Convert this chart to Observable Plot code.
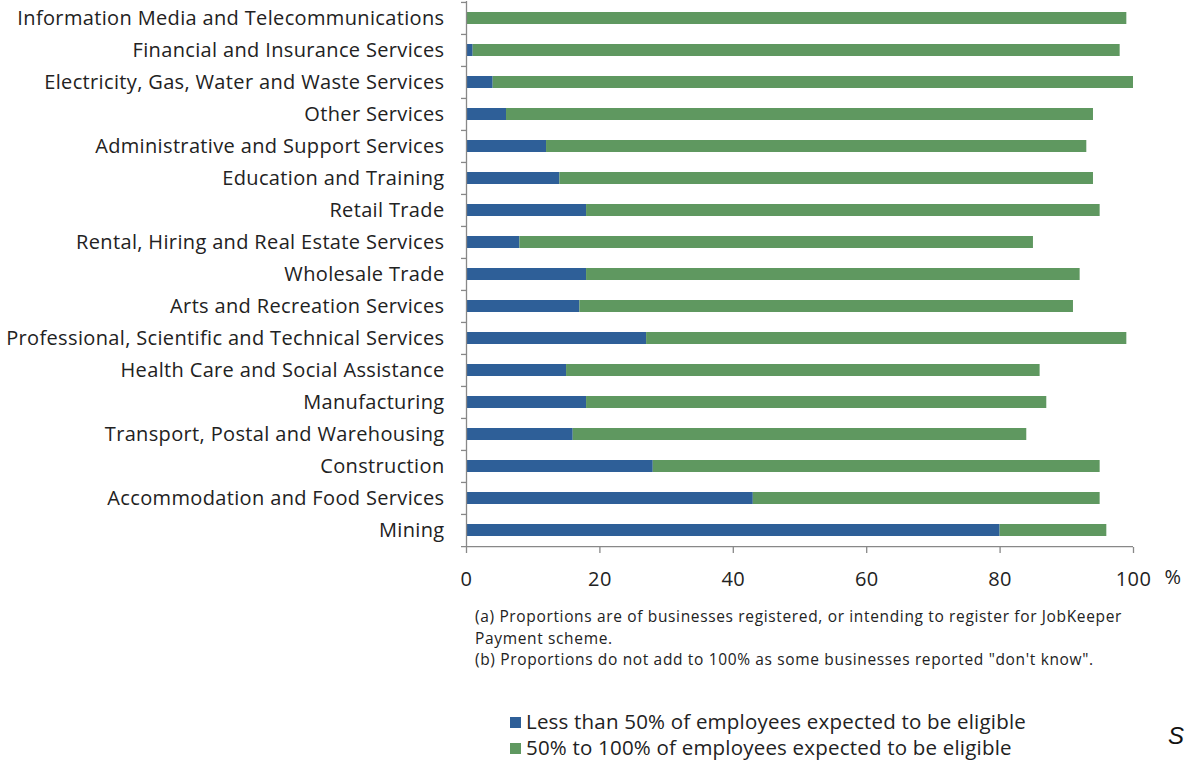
<!DOCTYPE html>
<html>
<head>
<meta charset="utf-8">
<script src="https://cdn.jsdelivr.net/npm/d3@7"></script>
<script src="https://cdn.jsdelivr.net/npm/@observablehq/plot@0.6"></script>
<style>
  html, body { margin: 0; padding: 0; background: #fff; }
  #wrap { position: relative; width: 1188px; height: 761px; overflow: hidden; font-family: "Open Sans", "Liberation Sans", sans-serif; color: #222; }
  #chart { position: absolute; left: 0; top: 0; }
  .note { position: absolute; left: 475px; font-size: 15.5px; letter-spacing: 0.65px; line-height: 21.5px; color: #222; white-space: nowrap; }
  .legend { position: absolute; left: 510px; font-size: 20.5px; letter-spacing: 0.2px; color: #222; white-space: nowrap; }
  .legend .sw { display: inline-block; width: 11px; height: 11px; margin-right: 5px; vertical-align: 1px; }
  .s { position: absolute; left: 1168px; top: 722px; font-family: "Liberation Sans", sans-serif; font-style: italic; font-size: 24px; color: #111; }
</style>
</head>
<body>
<div id="wrap">
  <div id="chart"></div>
  <div class="note" style="top:606px">(a) Proportions are of businesses registered, or intending to register for JobKeeper<br>Payment scheme.<br>(b) Proportions do not add to 100% as some businesses reported "don't know".</div>
  <div class="legend" style="top:707px"><span class="sw" style="background:#2E5F98"></span>Less than 50% of employees expected to be eligible</div>
  <div class="legend" style="top:733px"><span class="sw" style="background:#5F9860"></span>50% to 100% of employees expected to be eligible</div>
  <div class="s">S</div>
</div>
<script>
const industries = [
  "Information Media and Telecommunications",
  "Financial and Insurance Services",
  "Electricity, Gas, Water and Waste Services",
  "Other Services",
  "Administrative and Support Services",
  "Education and Training",
  "Retail Trade",
  "Rental, Hiring and Real Estate Services",
  "Wholesale Trade",
  "Arts and Recreation Services",
  "Professional, Scientific and Technical Services",
  "Health Care and Social Assistance",
  "Manufacturing",
  "Transport, Postal and Warehousing",
  "Construction",
  "Accommodation and Food Services",
  "Mining"
];
const lessThan50 = [0, 1, 4, 6, 12, 14, 18, 8, 18, 17, 27, 15, 18, 16, 28, 43, 80];
const from50to100 = [99, 97, 96, 88, 81, 80, 77, 77, 74, 74, 72, 71, 69, 68, 67, 52, 16];
const seriesNames = [
  "Less than 50% of employees expected to be eligible",
  "50% to 100% of employees expected to be eligible"
];
const seriesColors = ["#2E5F98", "#5F9860"];
const xTicks = [0, 20, 40, 60, 80, 100];

const rows = [];
industries.forEach((ind, i) => {
  rows.push({industry: ind, series: seriesNames[0], value: lessThan50[i]});
  rows.push({industry: ind, series: seriesNames[1], value: from50to100[i]});
});
const boundaries = industries.map(d => ({industry: d}));

const plotH = 547;
const step = (plotH - 1) / industries.length;

const chart = Plot.plot({
  width: 1188,
  height: 600,
  marginLeft: 466,
  marginRight: 55,
  marginTop: 1,
  marginBottom: 600 - plotH,
  style: {fontFamily: "'Open Sans', 'Liberation Sans', sans-serif", fontSize: "20px", color: "#222", background: "#fff", letterSpacing: "0.35px"},
  x: {domain: [0, 100], ticks: xTicks},
  y: {domain: industries, paddingInner: 0.62, paddingOuter: 0.31, align: 0.5},
  color: {domain: seriesNames, range: seriesColors},
  marks: [
    Plot.barX(rows, Plot.stackX({y: "industry", x: "value", fill: "series", order: seriesNames})),
    Plot.ruleX([0], {stroke: "#888", strokeWidth: 1.3}),
    Plot.ruleY(boundaries, {y: "industry", x1: -0.75, x2: 0, dy: -step / 2, stroke: "#888", strokeWidth: 1.3, clip: false}),
    Plot.ruleY([industries[industries.length - 1]], {x1: -0.75, x2: 100, dy: step / 2, stroke: "#888", strokeWidth: 1.3}),
    Plot.axisY({tickSize: 0, tickPadding: 22, label: null, fontSize: 20, fill: "#222"}),
    Plot.axisX({ticks: xTicks, tickSize: 6, tickPadding: 18, label: null, fontSize: 20, stroke: "#888", strokeWidth: 1.3, fill: "#222"}),
    Plot.text(["%"], {frameAnchor: "bottom-right", dx: 48, dy: 36, fontSize: 20, fill: "#222"})
  ]
});
document.getElementById("chart").appendChild(chart);
</script>
</body>
</html>
